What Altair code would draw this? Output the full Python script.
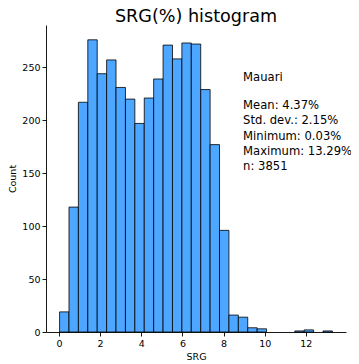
import altair as alt
import pandas as pd

# Histogram data (29 equal bins between min and max)
srg_min = 0.03
srg_max = 13.29
n_bins = 29
counts = [19, 118, 217, 276, 244, 257, 231, 220, 197, 221, 239, 271, 258, 273, 272,
          229, 177, 96, 16, 14, 4, 3, 0, 0, 0, 1, 2, 0, 1]

group_label = "Mauari"
stats_lines = ["Mean: 4.37%", "Std. dev.: 2.15%", "Minimum: 0.03%",
               "Maximum: 13.29%", "n: 3851"]

x_ticks = [0, 2, 4, 6, 8, 10, 12]
y_ticks = [0, 50, 100, 150, 200, 250]

w = (srg_max - srg_min) / n_bins
df = pd.DataFrame({
    "start": [srg_min + i * w for i in range(n_bins)],
    "end": [srg_min + (i + 1) * w for i in range(n_bins)],
    "count": counts,
})
df = df[df["count"] > 0]

FONT = "DejaVu Sans"
xdom = [-0.63, 13.95]
ydom = [0, 290]

bars = alt.Chart(df).mark_bar(
    color="#4da6ff", stroke="black", strokeWidth=0.8, opacity=1
).encode(
    x=alt.X("start:Q", scale=alt.Scale(domain=xdom, nice=False, zero=False),
            axis=alt.Axis(values=x_ticks, title="SRG", format="d")),
    x2="end:Q",
    y=alt.Y("count:Q", scale=alt.Scale(domain=ydom, nice=False),
            axis=alt.Axis(values=y_ticks, title="Count")),
    y2=alt.datum(0),
)

ann_df = pd.DataFrame({
    "x": [8.95, 8.95],
    "y": [246, 219],
    "t": [group_label, "\n".join(stats_lines)],
})
ann = alt.Chart(ann_df).mark_text(
    align="left", baseline="top", fontSize=11.6, font=FONT, color="black",
    lineBreak="\n", lineHeight=15.2
).encode(x="x:Q", y="y:Q", text="t:N")

chart = alt.layer(bars, ann).properties(
    width=300, height=307,
    title=alt.TitleParams("SRG(%) histogram", fontSize=17.6, font=FONT,
                          fontWeight="normal", color="black", anchor="middle", offset=-1),
    autosize=alt.AutoSizeParams(type="none"),
    padding={"left": 38, "top": 17, "right": 5, "bottom": 30},
).configure_view(stroke=None).configure_axis(
    grid=False, domainColor="black", tickColor="black", labelColor="black",
    titleColor="black", labelFont=FONT, titleFont=FONT, labelFontSize=9.5,
    titleFontSize=9.5, titleFontWeight="normal", tickSize=4, labelPadding=2,
    domainWidth=0.9, tickWidth=0.9, titlePadding=4
)

chart.save("out.html", embed_options={"renderer": "svg", "actions": False})
